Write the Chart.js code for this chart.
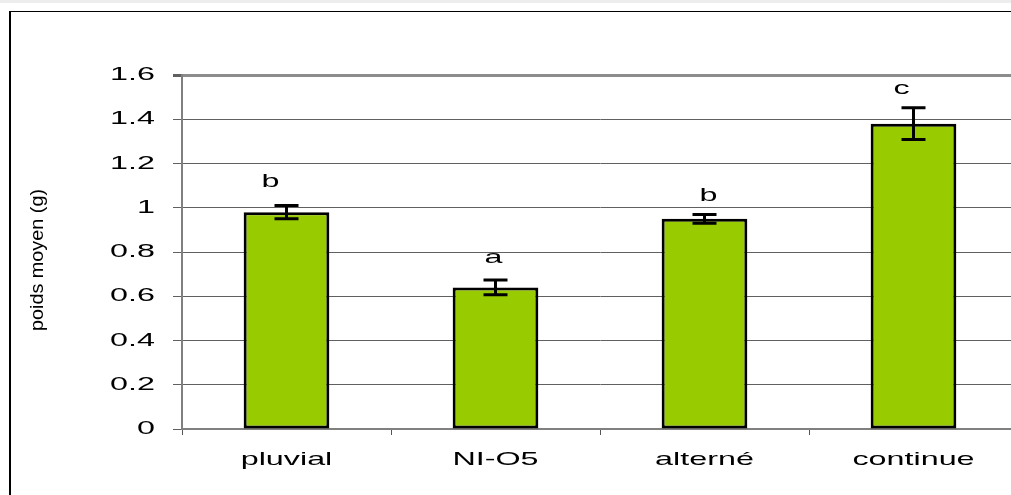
<!DOCTYPE html>
<html>
<head>
<meta charset="utf-8">
<script src="https://cdn.jsdelivr.net/npm/chart.js@4/dist/chart.umd.min.js"></script>
<style>
  html, body { margin: 0; padding: 0; background: #fff; overflow: hidden; width: 1011px; height: 495px; }
  #strip { position: absolute; left: 0; top: 0; width: 1011px; height: 3px; background: #ededed; }
  #frame { position: absolute; left: 9px; top: 11px; width: 1100px; height: 600px;
           border-left: 2px solid #000; border-top: 1px solid #000; }
  #wrap { position: absolute; left: 0; top: 0; width: 1030px; height: 495px; }
</style>
</head>
<body>
<div id="strip"></div>
<div id="frame"></div>
<div id="wrap"><canvas id="c"></canvas></div>
<script>
// Mean weight per irrigation regime, with standard error and significance group
const categories = ['pluvial', 'NI-O5', 'alterné', 'continue'];
const meanWeight = [0.98, 0.64, 0.95, 1.38];
const stdError   = [0.03, 0.033, 0.02, 0.072];
const groupLetters = ['b', 'a', 'b', 'c'];
const yTickLabels = ['0', '0.2', '0.4', '0.6', '0.8', '1', '1.2', '1.4', '1.6'];
const yTitle = 'poids moyen (g)';

const FONT = '"Liberation Sans", Arial, sans-serif';
const TEXT_STRETCH = 1.7;             // wide lettering used for all chart text
const letterNudge = [[-16, -3], [-2, -1], [4, 3], [-12, 2]];  // hand-placed letter offsets (px)

function wideText(ctx, text, x, y, align, size) {
  ctx.save();
  ctx.translate(x, y);
  ctx.scale(TEXT_STRETCH, 1);
  ctx.font = size + 'px ' + FONT;
  ctx.textAlign = align;
  ctx.fillText(text, 0, 0);
  ctx.restore();
}

// Tick labels, error bars, group letters and axis title
const annotatePlugin = {
  id: 'annotate',
  afterDatasetsDraw(chart) {
    const ctx = chart.ctx;
    const xs = chart.scales.x, ys = chart.scales.y;
    ctx.save();
    ctx.strokeStyle = '#000';
    ctx.fillStyle = '#000';
    ctx.lineWidth = 3;
    ctx.textBaseline = 'alphabetic';
    meanWeight.forEach((v, i) => {
      const x = xs.getPixelForValue(i);
      const yTop = ys.getPixelForValue(v + stdError[i]);
      const yBot = ys.getPixelForValue(v - stdError[i]);
      const half = 12;
      ctx.beginPath();
      ctx.moveTo(x, yTop); ctx.lineTo(x, yBot);
      ctx.moveTo(x - half, yTop); ctx.lineTo(x + half, yTop);
      ctx.moveTo(x - half, yBot); ctx.lineTo(x + half, yBot);
      ctx.stroke();
      wideText(ctx, groupLetters[i], x + letterNudge[i][0], yTop - 16 + letterNudge[i][1], 'center', 19);
    });
    ctx.restore();
  },
  afterDraw(chart) {
    const ctx = chart.ctx;
    const xs = chart.scales.x, ys = chart.scales.y;
    ctx.save();
    ctx.fillStyle = '#000';
    ctx.textBaseline = 'middle';
    ys.ticks.forEach((t, i) => {
      wideText(ctx, yTickLabels[i], ys.right - 27, ys.getPixelForTick(i), 'right', 19);
    });
    ctx.textBaseline = 'alphabetic';
    xs.ticks.forEach((t, i) => {
      wideText(ctx, categories[i], xs.getPixelForTick(i), xs.top + 36, 'center', 19);
    });
    ctx.translate(38, 260);
    ctx.rotate(-Math.PI / 2);
    ctx.font = '18px ' + FONT;
    ctx.textAlign = 'center';
    ctx.textBaseline = 'middle';
    ctx.scale(1.1, 1);
    ctx.fillText(yTitle, 0, 0);
    ctx.restore();
  }
};

new Chart(document.getElementById('c'), {
  type: 'bar',
  data: {
    labels: categories,
    datasets: [{
      data: meanWeight,
      backgroundColor: '#99cc00',
      borderColor: '#000',
      borderWidth: 3,
      borderSkipped: false,
      barPercentage: 0.41,
      categoryPercentage: 1
    }]
  },
  options: {
    responsive: true,
    maintainAspectRatio: false,
    animation: false,
    layout: { padding: { left: 0, top: 75, right: 12, bottom: 0 } },
    plugins: { legend: { display: false }, tooltip: { enabled: false } },
    scales: {
      x: {
        afterFit(scale) { scale.height = 66; },
        grid: { offset: true, drawOnChartArea: false, tickLength: 6, color: '#555', lineWidth: 1 },
        border: { color: '#808080', width: 2 },
        ticks: { display: false }
      },
      y: {
        min: 0, max: 1.6,
        afterFit(scale) { scale.width = 182; },
        grid: {
          color: (c) => (c.tick && c.tick.value > 1.55 ? '#8c8c8c' : '#606060'),
          lineWidth: (c) => (c.tick && c.tick.value > 1.55 ? 3 : 1),
          tickColor: '#606060',
          tickLength: 9
        },
        border: { color: '#808080', width: 2 },
        ticks: { stepSize: 0.2, display: false }
      }
    }
  },
  plugins: [annotatePlugin]
});
</script>
</body>
</html>
